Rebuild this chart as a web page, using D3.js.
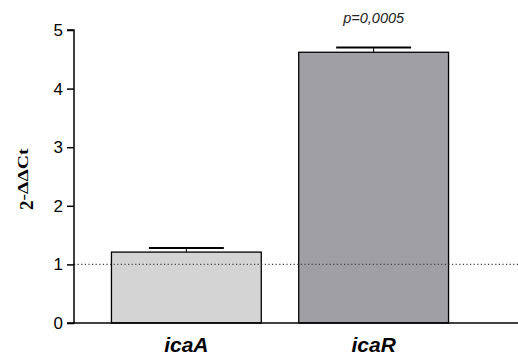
<!DOCTYPE html>
<html>
<head>
<meta charset="utf-8">
<script src="https://cdn.jsdelivr.net/npm/d3@7"></script>
<style>
  html, body { margin: 0; padding: 0; background: #fff; }
  svg { display: block; }
</style>
</head>
<body>
<svg id="chart" width="518" height="356"></svg>
<script>
// Relative expression (2^-ΔΔCt) per gene
const genes = ["icaA", "icaR"];
const meanValues = [1.21, 4.62];
const errorValues = [0.07, 0.08];
const barColors = ["#d4d4d4", "#a09fa4"];
const yTicks = [0, 1, 2, 3, 4, 5];
const referenceLevel = 1;
const pLabels = ["", "p=0,0005"];

(function draw() {
  const svg = d3.select("#chart");
  const W = 518;
  const mLeft = 74, mRight = 486, mTop = 30, mBottom = 323;

  const x = d3.scaleBand().domain(genes).range([mLeft, mRight]).paddingInner(0.2).paddingOuter(0.2);
  const y = d3.scaleLinear().domain([0, 5]).range([mBottom, mTop]);

  // bars
  svg.selectAll("rect.bar").data(genes).join("rect")
    .attr("class", "bar")
    .attr("x", d => x(d))
    .attr("width", x.bandwidth())
    .attr("y", (d, i) => y(meanValues[i]))
    .attr("height", (d, i) => y(0) - y(meanValues[i]))
    .attr("fill", (d, i) => barColors[i])
    .attr("stroke", "#000")
    .attr("stroke-width", 1.3);

  // error bars (upper half only)
  const eb = svg.append("g").attr("stroke", "#000");
  genes.forEach((g, i) => {
    const cx = x(g) + x.bandwidth() / 2;
    const capHalf = x.bandwidth() / 4;
    eb.append("line").attr("x1", cx).attr("x2", cx)
      .attr("y1", y(meanValues[i])).attr("y2", y(meanValues[i] + errorValues[i]))
      .attr("stroke-width", 1);
    eb.append("line").attr("x1", cx - capHalf).attr("x2", cx + capHalf)
      .attr("y1", y(meanValues[i] + errorValues[i])).attr("y2", y(meanValues[i] + errorValues[i]))
      .attr("stroke-width", 2);
  });

  // reference line at 1
  svg.append("line")
    .attr("x1", mLeft).attr("x2", W)
    .attr("y1", y(referenceLevel)).attr("y2", y(referenceLevel))
    .attr("stroke", "#444").attr("stroke-width", 1.2)
    .attr("stroke-dasharray", "1.2,2.4");

  // y axis
  const yAxis = d3.axisLeft(y).tickValues(yTicks).tickSize(7).tickPadding(4).tickFormat(d3.format("d"));
  const ga = svg.append("g").attr("transform", `translate(${mLeft},0)`).call(yAxis);
  ga.select(".domain").attr("stroke", "#000").attr("stroke-width", 1.5)
    .attr("d", `M-7,${mTop}H0V${mBottom}H-7`);
  ga.selectAll(".tick line").attr("stroke", "#000").attr("stroke-width", 1.5);
  ga.selectAll(".tick text").attr("font-family", "Arial, 'Liberation Sans', sans-serif")
    .attr("font-size", 17).attr("fill", "#000");

  // x axis baseline
  svg.append("line").attr("x1", mLeft).attr("x2", W)
    .attr("y1", y(0)).attr("y2", y(0))
    .attr("stroke", "#000").attr("stroke-width", 1.5);

  // category labels
  svg.selectAll("text.cat").data(genes).join("text")
    .attr("class", "cat")
    .attr("x", d => x(d) + x.bandwidth() / 2)
    .attr("y", 352)
    .attr("text-anchor", "middle")
    .attr("font-family", "Arial, 'Liberation Sans', sans-serif")
    .attr("font-size", 21).attr("font-weight", "bold").attr("font-style", "italic")
    .text(d => d);

  // significance labels
  svg.selectAll("text.p").data(genes).join("text")
    .attr("class", "p")
    .attr("x", d => x(d) + x.bandwidth() / 2)
    .attr("y", 23)
    .attr("text-anchor", "middle")
    .attr("font-family", "Arial, 'Liberation Sans', sans-serif")
    .attr("font-size", 14.5).attr("font-style", "italic").attr("fill", "#222")
    .text((d, i) => pLabels[i]);

  // y axis title
  const yt = svg.append("text")
    .attr("transform", "translate(33,210) rotate(-90)")
    .attr("font-family", "'Times New Roman', 'Liberation Serif', serif")
    .attr("font-weight", "bold").attr("fill", "#000");
  yt.append("tspan").attr("font-size", 19).text("2");
  yt.append("tspan").attr("font-size", 15).attr("dy", -5)
    .attr("textLength", 52).attr("lengthAdjust", "spacingAndGlyphs")
    .text("-ΔΔCt");
})();
</script>
</body>
</html>
